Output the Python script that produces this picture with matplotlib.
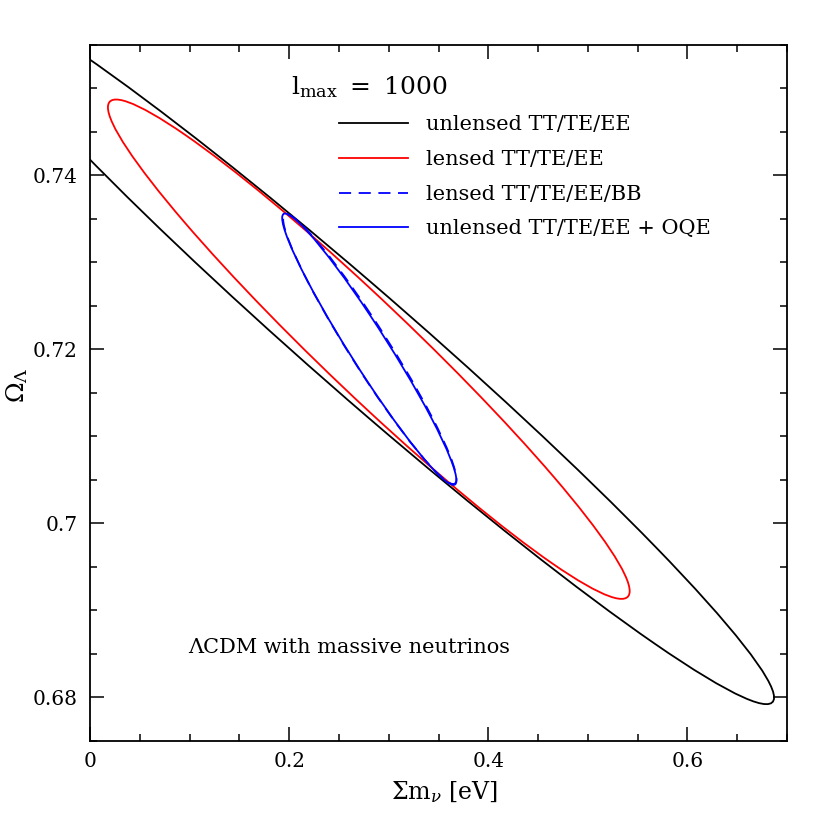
import numpy as np
import matplotlib
matplotlib.use("Agg")
import matplotlib.pyplot as plt
from matplotlib.patches import Ellipse
from matplotlib.lines import Line2D
from matplotlib.ticker import MultipleLocator, FixedLocator, FixedFormatter

plt.rcParams['font.family'] = ['DejaVu Serif']
plt.rcParams['mathtext.fontset'] = 'dejavuserif'

# ---- data ----
series_labels = ["unlensed TT/TE/EE", "lensed TT/TE/EE",
                 "lensed TT/TE/EE/BB", "unlensed TT/TE/EE + OQE"]
series_colors = ["black", "red", "blue", "blue"]
series_styles = ["-", "-", "--", "-"]
center_mnu = [0.280, 0.280, 0.2810, 0.2805]      # contour centre, Sum m_nu [eV]
center_omega = [0.720, 0.720, 0.7200, 0.7200]    # contour centre, Omega_Lambda
extent_mnu = [0.407, 0.262, 0.0870, 0.0875]      # half extent of contour in Sum m_nu
extent_omega = [0.0408, 0.0287, 0.0155, 0.0156]  # half extent of contour in Omega_Lambda
correlation = [-0.981, -0.9686, -0.963, -0.966]

xticks = [0, 0.2, 0.4, 0.6]
xticklabels = ["0", "0.2", "0.4", "0.6"]
yticks = [0.68, 0.70, 0.72, 0.74]
yticklabels = ["0.68", "0.7", "0.72", "0.74"]

DASH = (6.7, 4.2)

fig = plt.figure(figsize=(8.3, 8.3), dpi=100)
ax = fig.add_axes([90/830, (830-740.7)/830, 697/830, 696/830])

for cx, cy, a, b, r, col, ls in zip(center_mnu, center_omega, extent_mnu,
                                    extent_omega, correlation, series_colors,
                                    series_styles):
    cov = np.array([[a*a, r*a*b], [r*a*b, b*b]])
    vals, vecs = np.linalg.eigh(cov)
    w = 2*np.sqrt(vals[1]); h = 2*np.sqrt(vals[0])
    ang = np.degrees(np.arctan2(vecs[1, 1], vecs[0, 1]))
    e = Ellipse((cx, cy), w, h, angle=ang, fill=False, edgecolor=col,
                linewidth=1.3)
    if ls == "--":
        e.set_linestyle((0, DASH))
    ax.add_patch(e)

ax.set_xlim(0, 0.7)
ax.set_ylim(0.675, 0.755)
ax.xaxis.set_major_locator(FixedLocator(xticks))
ax.xaxis.set_major_formatter(FixedFormatter(xticklabels))
ax.yaxis.set_major_locator(FixedLocator(yticks))
ax.yaxis.set_major_formatter(FixedFormatter(yticklabels))
ax.xaxis.set_minor_locator(MultipleLocator(0.05))
ax.yaxis.set_minor_locator(MultipleLocator(0.005))
ax.tick_params(which='both', direction='in', top=True, right=True, width=1.1,
               labelsize=14.5)
ax.tick_params(which='major', length=10)
ax.tick_params(which='minor', length=5)
ax.tick_params(axis='x', pad=8)
ax.tick_params(axis='y', pad=9)
for s in ax.spines.values():
    s.set_linewidth(1.3)

ax.set_xlabel(r"$\Sigma\mathrm{m}_{\nu}$ [eV]", fontsize=17)
ax.set_ylabel(r"$\Omega_{\Lambda}$", fontsize=18)
ax.xaxis.set_label_coords((445-90)/697, -(779-740.7)/696)
ax.yaxis.set_label_coords(-(90-30)/697, (740.7-385)/696)

# legend
ax.text((291-90)/697, (740.7-94.3)/696, "$\\mathrm{l_{max}}$ \u2009=\u2009 1000",
        transform=ax.transAxes, fontsize=18, va='baseline', ha='left')
row_y = [123.3, 158.3, 193.3, 227.3]
for lab, col, ls, yy in zip(series_labels, series_colors, series_styles, row_y):
    ya = (740.7-yy)/696
    ln = Line2D([(339-90)/697, (408-90)/697], [ya, ya], transform=ax.transAxes,
                color=col, linewidth=1.3)
    if ls == "--":
        ln.set_dashes(DASH)
    ax.add_line(ln)
    ax.text((426-90)/697, (740.7-yy-7)/696, lab, transform=ax.transAxes,
            fontsize=15, va='baseline', ha='left')

ax.text((188.5-90)/697, (740.7-653)/696, "ΛCDM with massive neutrinos",
        transform=ax.transAxes, fontsize=15, va='baseline', ha='left')

fig.savefig("out.png", dpi=100)
